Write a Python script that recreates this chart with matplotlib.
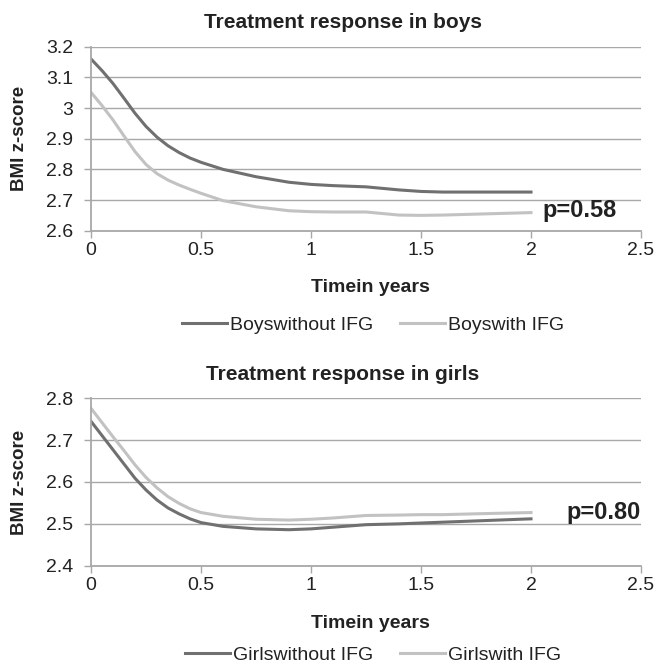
### BMI z-score treatment response, boys and girls
import numpy as np
import matplotlib
matplotlib.use("Agg")
import matplotlib.pyplot as plt
from matplotlib.ticker import FuncFormatter

plt.rcParams['font.family'] = ['Liberation Sans', 'DejaVu Sans']

### Data
years = [0, 0.05, 0.1, 0.15, 0.2, 0.25, 0.3, 0.35, 0.4, 0.45, 0.5, 0.6, 0.75, 0.9, 1.0, 1.1, 1.25,
         1.4, 1.5, 1.6, 1.75, 2.0]

boys_without  = [3.160, 3.122, 3.080, 3.032, 2.983, 2.940, 2.905, 2.877, 2.855, 2.837, 2.823, 2.800,
                 2.776, 2.758, 2.751, 2.747, 2.743, 2.733, 2.728, 2.726, 2.726, 2.726]
boys_with     = [3.051, 3.008, 2.961, 2.909, 2.858, 2.816, 2.786, 2.765, 2.749, 2.735, 2.722, 2.698,
                 2.678, 2.665, 2.662, 2.661, 2.661, 2.651, 2.650, 2.651, 2.654, 2.659]
girls_without = [2.745, 2.711, 2.677, 2.643, 2.609, 2.581, 2.557, 2.538, 2.524, 2.512, 2.503, 2.494,
                 2.488, 2.486, 2.488, 2.492, 2.498, 2.500, 2.502, 2.504, 2.507, 2.512]
girls_with    = [2.776, 2.742, 2.708, 2.675, 2.641, 2.611, 2.586, 2.565, 2.549, 2.536, 2.527, 2.518,
                 2.511, 2.509, 2.511, 2.514, 2.520, 2.521, 2.522, 2.522, 2.524, 2.527]

x_ticks = [0, 0.5, 1, 1.5, 2, 2.5]
boys_yticks  = [2.6, 2.7, 2.8, 2.9, 3.0, 3.1, 3.2]
girls_yticks = [2.4, 2.5, 2.6, 2.7, 2.8]

dark  = '#707070'
light = '#c2c2c2'
grid  = '#a8a8a8'
txt   = '#222222'

W, H = 659, 667
fig = plt.figure(figsize=(W/100, H/100), dpi=100)

def px(x, y):
    # pixel coords (top-left origin) -> figure fraction
    return x/W, 1 - y/H

def make_panel(rect, yticks, s1, s2, labels, title, title_y, xlab_y, leg_y, ptext, pxy):
    ax = fig.add_axes(rect)
    ax.plot(years, s1, color=dark, lw=2.2, label=labels[0])
    ax.plot(years, s2, color=light, lw=2.2, label=labels[1])
    ax.set_xlim(0, 2.5)
    ax.set_ylim(yticks[0], yticks[-1])
    ax.set_xticks(x_ticks)
    ax.set_yticks(yticks)
    fmt = FuncFormatter(lambda v, p: '%g' % round(v, 2))
    ax.xaxis.set_major_formatter(fmt)
    ax.yaxis.set_major_formatter(fmt)
    ax.grid(axis='y', color=grid, lw=1.0)
    ax.set_axisbelow(True)
    for s in ['top', 'right']:
        ax.spines[s].set_visible(False)
    for s in ['left', 'bottom']:
        ax.spines[s].set_color(grid)
        ax.spines[s].set_linewidth(1.3)
    ax.tick_params(axis='both', color=grid, width=1.0, length=5, labelsize=14, labelcolor=txt)
    ax.tick_params(axis='x', pad=3)
    ax.tick_params(axis='y', pad=8)
    ax.set_ylabel('BMI z-score', fontsize=13.5, fontweight='bold', color=txt)
    ax.yaxis.set_label_coords((28 - 91) / 550, 0.5)
    fig.text(*px(343, title_y), title, ha='center', va='center', fontsize=15,
             fontweight='bold', color=txt)
    fig.text(*px(370, xlab_y), 'Timein years', ha='center', va='center', fontsize=14,
             fontweight='bold', color=txt)
    ax.legend(loc='center', bbox_to_anchor=px(373, leg_y), bbox_transform=fig.transFigure,
              ncol=2, frameon=False, fontsize=14, handlelength=2.3, handletextpad=0.15,
              columnspacing=1.4, labelcolor=txt)
    ax.text(pxy[0], pxy[1], ptext, ha='left', va='center', fontsize=17, fontweight='bold',
            color=txt)
    return ax

# boys panel: x 91..641 px, y 46.7..230.7 px
l, t = px(91, 46.7)
r, b = px(641, 230.7)
make_panel([l, b, r - l, t - b], boys_yticks, boys_without, boys_with,
           ['Boyswithout IFG', 'Boyswith IFG'], 'Treatment response in boys',
           23, 288, 325, 'p=0.58', (2.05, 2.665))

# girls panel: y 398.3..565.7 px
l, t = px(91, 398.3)
r, b = px(641, 565.7)
make_panel([l, b, r - l, t - b], girls_yticks, girls_without, girls_with,
           ['Girlswithout IFG', 'Girlswith IFG'], 'Treatment response in girls',
           375, 623, 655, 'p=0.80', (2.16, 2.526))

fig.savefig('out.png', dpi=100)
